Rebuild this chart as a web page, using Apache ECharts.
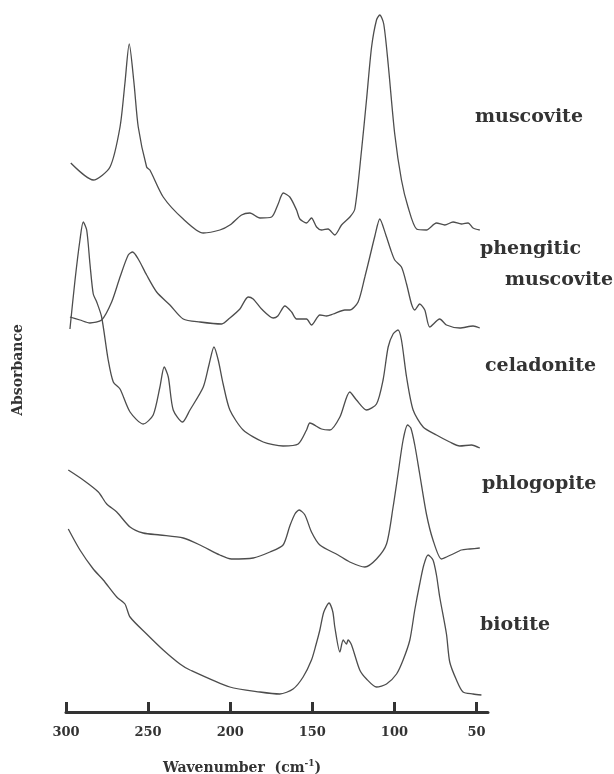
<!DOCTYPE html>
<html>
<head>
<meta charset="utf-8">
<script src="https://cdn.jsdelivr.net/npm/echarts@6/dist/echarts.min.js"></script>
<style>
  html, body { margin: 0; padding: 0; background: #ffffff; }
  #chart { width: 614px; height: 774px; }
</style>
</head>
<body>
<div id="chart"></div>
<script>
// far-IR spectra, wavenumber in cm-1, absorbance in arbitrary units (stacked as in the figure)
const muscoviteWn = [297.1, 283.4, 273.2, 267.1, 264.1, 261.5, 258.6, 256.0, 250.9, 248.9, 240.8, 228.6, 216.4, 206.3, 200.2, 193.1, 188.0, 181.9, 174.8, 170.8, 167.7, 163.7, 159.6, 157.6, 153.5, 150.5, 147.4, 144.4, 140.4, 136.3, 132.2, 127.1, 124.1, 120.0, 117.0, 113.9, 110.9, 108.9, 106.5, 103.8, 99.8, 95.7, 91.7, 86.5, 80.5, 74.4, 69.3, 64.3, 59.2, 55.1, 52.1, 48.0]
const muscoviteAbs = [5.49, 5.32, 5.45, 5.85, 6.29, 6.68, 6.29, 5.85, 5.45, 5.42, 5.15, 4.93, 4.79, 4.82, 4.87, 4.97, 4.99, 4.94, 4.95, 5.08, 5.19, 5.15, 5.02, 4.93, 4.89, 4.94, 4.85, 4.82, 4.83, 4.77, 4.87, 4.95, 5.03, 5.62, 6.12, 6.65, 6.92, 6.97, 6.88, 6.48, 5.78, 5.32, 5.05, 4.83, 4.82, 4.89, 4.87, 4.90, 4.88, 4.89, 4.84, 4.82]

const phengiticWn = [297.6, 291.5, 285.4, 278.3, 272.2, 267.1, 262.1, 259.4, 256, 250.9, 244.8, 236.7, 228.6, 218.4, 205.2, 200.2, 194.1, 189.1, 186, 180.9, 173.8, 171, 166.7, 162.6, 159.6, 153.5, 150.5, 145.4, 141.3, 137.3, 130.2, 127.2, 122.1, 118, 115, 111.9, 108.9, 105.2, 102.2, 99.8, 95.7, 92.6, 89.6, 87.6, 84.6, 81.5, 78.5, 72.4, 68.3, 60.2, 52.1, 48]
const phengiticAbs = [3.95, 3.92, 3.89, 3.92, 4.10, 4.35, 4.57, 4.60, 4.53, 4.37, 4.20, 4.07, 3.93, 3.90, 3.88, 3.94, 4.03, 4.15, 4.13, 4.03, 3.94, 3.96, 4.06, 4.00, 3.93, 3.93, 3.87, 3.97, 3.96, 3.98, 4.02, 4.02, 4.10, 4.35, 4.55, 4.76, 4.93, 4.77, 4.62, 4.52, 4.45, 4.28, 4.08, 4.02, 4.08, 4.02, 3.85, 3.93, 3.87, 3.84, 3.86, 3.84]

const celadoniteWn = [297.6, 294.5, 291.5, 289.5, 287.4, 285.4, 283.4, 281.3, 278.3, 274.3, 271.2, 267.1, 261, 253, 246.9, 242.8, 240.2, 237.7, 234.7, 229, 224.5, 216.4, 212.8, 209.9, 207.3, 204.3, 200.2, 192.1, 179.9, 167.8, 158.6, 153.5, 151.5, 144.4, 139.3, 133.2, 127.2, 123.1, 117, 110.9, 106.9, 103.8, 100.8, 97.8, 95.7, 92.6, 88.6, 82.5, 74.4, 66.3, 60.2, 53.1, 48]
const celadoniteAbs = [3.83, 4.32, 4.72, 4.90, 4.82, 4.48, 4.18, 4.10, 3.95, 3.52, 3.30, 3.23, 3.00, 2.88, 2.97, 3.25, 3.45, 3.35, 3.02, 2.90, 3.02, 3.25, 3.48, 3.65, 3.52, 3.28, 3.02, 2.82, 2.70, 2.66, 2.68, 2.82, 2.89, 2.83, 2.82, 2.95, 3.20, 3.12, 3.02, 3.08, 3.32, 3.65, 3.78, 3.82, 3.72, 3.35, 3.02, 2.85, 2.77, 2.70, 2.66, 2.67, 2.64]

const phlogopiteWn = [298.6, 289.5, 280.3, 275.2, 269.1, 261, 253, 242.8, 228.6, 218.4, 206.3, 199.2, 186, 175.8, 167.8, 163.7, 160.6, 158, 154.5, 150.5, 145.4, 134.3, 127.2, 118, 110.9, 104.8, 100.8, 97.8, 94.7, 92, 90, 87.6, 84.6, 80.5, 76.5, 71.4, 68.3, 64.3, 59.2, 54.1, 48]
const phlogopiteAbs = [2.42, 2.32, 2.20, 2.08, 2.00, 1.85, 1.79, 1.77, 1.74, 1.67, 1.57, 1.53, 1.54, 1.60, 1.67, 1.86, 1.98, 2.02, 1.97, 1.80, 1.67, 1.57, 1.50, 1.45, 1.53, 1.68, 2.05, 2.38, 2.72, 2.87, 2.84, 2.67, 2.38, 1.98, 1.72, 1.53, 1.55, 1.58, 1.62, 1.63, 1.64]

const biotiteWn = [298.6, 291.5, 283.4, 277.3, 269.1, 264.1, 261, 250.9, 240.8, 230.6, 224.5, 200.2, 181.9, 169.8, 161.7, 155.6, 150.5, 147.8, 145.4, 143, 139.8, 137.5, 136.3, 133.2, 131.2, 129.2, 128.2, 126.1, 121.1, 117, 110.9, 104.8, 98.7, 94.7, 90.6, 87.6, 84.6, 82.1, 79.5, 76.5, 74.4, 72.4, 68.3, 66.3, 62.2, 58.2, 52.1, 47]
const biotiteAbs = [1.83, 1.62, 1.43, 1.32, 1.15, 1.08, 0.95, 0.78, 0.62, 0.48, 0.42, 0.25, 0.20, 0.18, 0.23, 0.35, 0.52, 0.67, 0.82, 1.00, 1.09, 1.00, 0.85, 0.60, 0.72, 0.68, 0.72, 0.67, 0.42, 0.33, 0.25, 0.28, 0.38, 0.52, 0.72, 1.02, 1.28, 1.47, 1.57, 1.52, 1.37, 1.15, 0.78, 0.50, 0.32, 0.20, 0.18, 0.17]

const tickValues = [300, 250, 200, 150, 100, 50]
const spectrumNames = ['muscovite', 'phengitic muscovite', 'celadonite', 'phlogopite', 'biotite']

const zip = (xs, ys) => xs.map((x, i) => [x, ys[i]])
const spectra = [
  zip(muscoviteWn, muscoviteAbs),
  zip(phengiticWn, phengiticAbs),
  zip(celadoniteWn, celadoniteAbs),
  zip(phlogopiteWn, phlogopiteAbs),
  zip(biotiteWn, biotiteAbs),
]

const serif = '"DejaVu Serif", "Liberation Serif", serif'
const ink = '#333333'
const labelFont = 'bold 19px ' + serif

const myChart = echarts.init(document.getElementById('chart'))

const option = {
  animation: false,
  backgroundColor: '#ffffff',
  grid: {
    left: 66,
    right: 126,
    top: 12,
    bottom: 62,
    outerBoundsMode: 'none',
  },
  xAxis: {
    type: 'value',
    min: 43,
    max: 300,
    inverse: true,
    name: '{t|Wavenumber  (cm}{s|-1}{t|)}',
    nameLocation: 'middle',
    nameGap: 47,
    nameTextStyle: {
      padding: [0, 70, 0, 0],
      rich: {
        t: { fontFamily: serif, fontWeight: 'bold', fontSize: 14, color: ink, lineHeight: 18 },
        s: { fontFamily: serif, fontWeight: 'bold', fontSize: 9, color: ink, verticalAlign: 'top', lineHeight: 18 },
      },
    },
    axisLine: { show: true, lineStyle: { color: ink, width: 3 } },
    axisTick: {
      show: true,
      inside: true,
      length: 10,
      customValues: tickValues,
      lineStyle: { color: ink, width: 3 },
    },
    axisLabel: {
      customValues: tickValues,
      margin: 14,
      color: ink,
      fontFamily: serif,
      fontWeight: 'bold',
      fontSize: 13,
    },
    splitLine: { show: false },
  },
  yAxis: {
    type: 'value',
    min: 0,
    max: 7,
    name: 'Absorbance',
    nameLocation: 'middle',
    nameGap: 41,
    nameTextStyle: {
      fontFamily: serif,
      fontWeight: 'bold',
      fontSize: 14,
      color: ink,
      padding: [0, 16, 0, 0],
    },
    axisLine: { show: false },
    axisTick: { show: false },
    axisLabel: { show: false },
    splitLine: { show: false },
  },
  series: spectra.map((data, i) => ({
    name: spectrumNames[i],
    type: 'line',
    data: data,
    showSymbol: false,
    smooth: 0.25,
    lineStyle: { color: '#4d4d4d', width: 1.3 },
  })),
  graphic: [
    { type: 'text', left: 475, top: 108, style: { text: 'muscovite', font: labelFont, fill: ink } },
    { type: 'text', left: 480, top: 240, style: { text: 'phengitic', font: labelFont, fill: ink } },
    { type: 'text', left: 505, top: 271, style: { text: 'muscovite', font: labelFont, fill: ink } },
    { type: 'text', left: 485, top: 357, style: { text: 'celadonite', font: labelFont, fill: ink } },
    { type: 'text', left: 482, top: 475, style: { text: 'phlogopite', font: labelFont, fill: ink } },
    { type: 'text', left: 480, top: 616, style: { text: 'biotite', font: labelFont, fill: ink } },
  ],
}

myChart.setOption(option)
</script>
</body>
</html>
